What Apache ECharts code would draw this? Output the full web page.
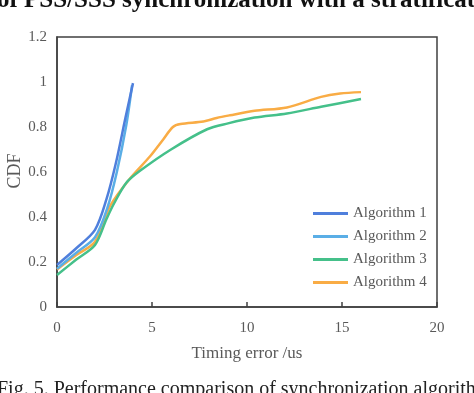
<!DOCTYPE html>
<html><head><meta charset="utf-8">
<script src="https://cdn.jsdelivr.net/npm/echarts@6/dist/echarts.min.js"></script>
<style>html,body{margin:0;padding:0;background:#fff}#c{width:474px;height:393px}</style>
</head><body><div id="c"></div>
<script>
const seriesNames = ['Algorithm 1','Algorithm 2','Algorithm 3','Algorithm 4'];
const alg1 = [[0,0.187],[1,0.26],[2,0.343],[2.6,0.478],[3.1,0.64],[3.6,0.84],[4,0.995]];
const alg2 = [[0,0.17],[1,0.24],[2,0.31],[2.65,0.44],[3.15,0.6],[3.65,0.81],[3.95,0.985]];
const alg3 = [[0,0.142],[1,0.21],[2,0.276],[2.6,0.39],[3,0.46],[3.65,0.552],[4.35,0.604],[6,0.70],[7.9,0.79],[9,0.816],[10.4,0.842],[12.1,0.86],[13.9,0.89],[16,0.924]];
const alg4 = [[0,0.167],[1,0.23],[2,0.29],[2.8,0.45],[3.8,0.567],[4.9,0.67],[5.6,0.746],[6.1,0.80],[6.5,0.813],[7.7,0.824],[8.4,0.84],[9.1,0.852],[10.4,0.872],[12.1,0.887],[13.9,0.934],[14.9,0.949],[16,0.955]];
const colors = ['#4f7fdc','#5aaee6','#45c08a','#f9ac45'];
const xName = 'Timing error /us';
const yName = 'CDF';
const topText = 'of PSS/SSS synchronization with a stratification';
const caption = 'Fig. 5. Performance comparison of synchronization algorithms';

const font = '"Liberation Serif", "Times New Roman", serif';
const chart = echarts.init(document.getElementById('c'));
const data = [alg1, alg2, alg3, alg4];
chart.setOption({
  animation: false,
  grid: {left: 57, right: 37, top: 37, bottom: 86, show: true, borderColor: '#404040', borderWidth: 1.5, containLabel: false, outerBoundsMode: 'none'},
  xAxis: {
    type: 'value', min: 0, max: 20, interval: 5,
    name: xName, nameLocation: 'middle', nameGap: 38, nameMoveOverlap: false,
    nameTextStyle: {fontFamily: font, fontSize: 17, color: '#595959'},
    axisLine: {lineStyle: {color: '#404040', width: 1.5}},
    axisTick: {show: true, inside: true, length: 5, lineStyle: {color: '#404040', width: 1.5}},
    axisLabel: {fontFamily: font, fontSize: 15, color: '#595959', margin: 14},
    splitLine: {show: false}
  },
  yAxis: {
    type: 'value', min: 0, max: 1.2, interval: 0.2,
    axisLine: {show: true, lineStyle: {color: '#404040', width: 1.5}},
    axisTick: {show: false},
    axisLabel: {fontFamily: font, fontSize: 15, color: '#595959', margin: 10},
    splitLine: {show: false}
  },
  legend: {
    orient: 'vertical', left: 313, top: 206, padding: 0, itemWidth: 35, itemHeight: 3, itemGap: 8,
    icon: 'rect',
    textStyle: {fontFamily: font, fontSize: 15, color: '#595959'},
    data: seriesNames
  },
  graphic: [
    {type: 'text', left: -3, top: -12, style: {text: topText, font: 'bold 25px ' + font, fill: '#111'}},
    {type: 'text', left: -3, top: 380, style: {text: caption, font: '20px ' + font, fill: '#222'}},
    {type: 'text', x: 15, y: 171, rotation: Math.PI / 2, style: {text: yName, font: '18px ' + font, fill: '#595959', align: 'center', verticalAlign: 'middle'}}
  ],
  series: data.map((d, i) => ({
    name: seriesNames[i], type: 'line', data: d, smooth: 0.3, showSymbol: false, symbol: 'none',
    lineStyle: {color: colors[i], width: 2.5}, itemStyle: {color: colors[i]}, z: 10 - i
  }))
});
</script></body></html>
